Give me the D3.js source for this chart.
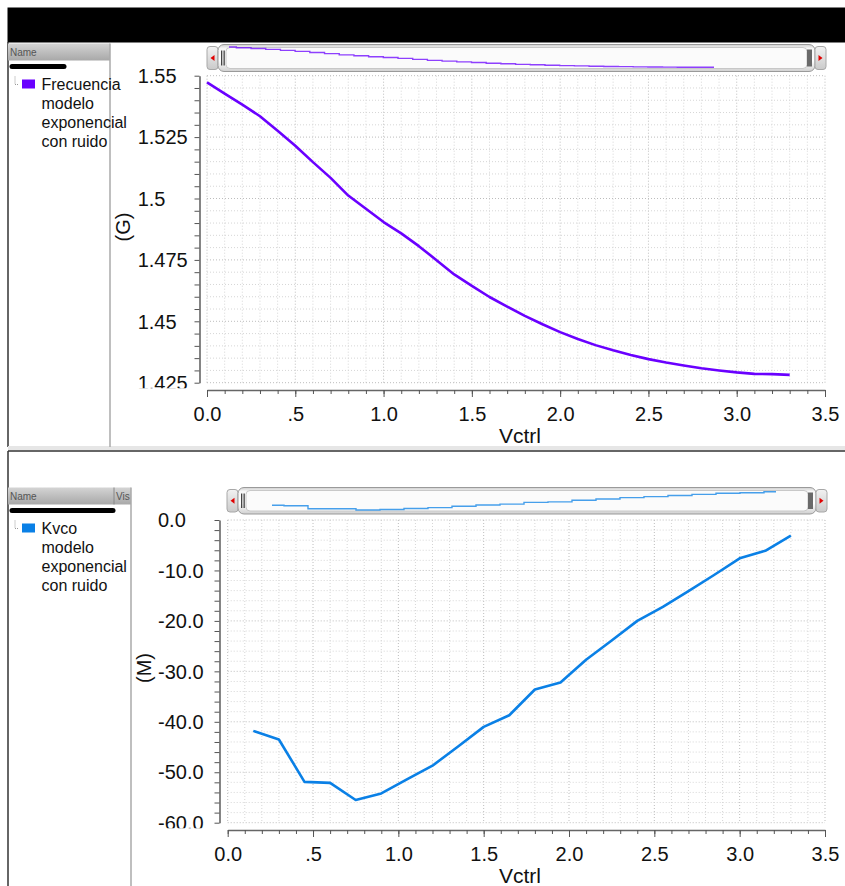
<!DOCTYPE html>
<html><head><meta charset="utf-8">
<script src="https://cdn.jsdelivr.net/npm/d3@7"></script>
<style>
html,body{margin:0;padding:0;background:#fff;}
svg{display:block;font-family:"Liberation Sans",Arial,Helvetica,sans-serif;}
</style></head>
<body><svg id="c" width="845" height="886"></svg>
<script>
// ---------- data ----------
const freqX = [0,0.1,0.2,0.3,0.4,0.5,0.6,0.7,0.8,0.9,1.0,1.1,1.2,1.3,1.4,1.5,1.6,1.7,1.8,1.9,2.0,2.1,2.2,2.3,2.4,2.5,2.6,2.7,2.8,2.9,3.0,3.1,3.2,3.3];
const freqY = [1.5473,1.5427,1.5382,1.5335,1.5276,1.5215,1.5148,1.5084,1.5012,1.4958,1.4904,1.4858,1.4806,1.4749,1.4691,1.4644,1.4599,1.4560,1.4522,1.4488,1.4456,1.4428,1.4403,1.4382,1.4363,1.4346,1.4332,1.4320,1.4309,1.4300,1.4292,1.4286,1.4285,1.4282];
const kvcoX = [0.15,0.3,0.45,0.6,0.75,0.9,1.05,1.2,1.35,1.5,1.65,1.8,1.95,2.1,2.25,2.4,2.55,2.7,2.85,3.0,3.15,3.3];
const kvcoY = [-41.8,-43.5,-51.9,-52.1,-55.5,-54.2,-51.4,-48.7,-44.9,-41.0,-38.7,-33.6,-32.2,-27.7,-23.9,-20.0,-17.2,-14.1,-10.9,-7.6,-6.1,-3.1];
const xTickValues = [0,0.5,1.0,1.5,2.0,2.5,3.0,3.5];
const xTickLabels = ["0.0",".5","1.0","1.5","2.0","2.5","3.0","3.5"];
const freqTickValues = [1.55,1.525,1.5,1.475,1.45,1.425];
const freqTickLabels = ["1.55","1.525","1.5","1.475","1.45","1.425"];
const kvcoTickValues = [0,-10,-20,-30,-40,-50,-60];
const kvcoTickLabels = ["0.0","-10.0","-20.0","-30.0","-40.0","-50.0","-60.0"];
const legendFreq = ["Frecuencia","modelo","exponencial","con ruido"];
const legendKvco = ["Kvco","modelo","exponencial","con ruido"];
const xTitle = "Vctrl";
const freqUnit = "(G)";
const kvcoUnit = "(M)";
const freqColor = "#6a00ff";
const kvcoColor = "#0a80e6";

const svg = d3.select("#c");
const defs = svg.append("defs");
function grad(id, stops){
  const g = defs.append("linearGradient").attr("id",id).attr("x1",0).attr("y1",0).attr("x2",0).attr("y2",1);
  stops.forEach(s=>g.append("stop").attr("offset",s[0]).attr("stop-color",s[1]));
}
grad("hdr",[[0,"#d4d4d4"],[1,"#a8a8a8"]]);
grad("trough",[[0,"#cfcfcf"],[0.15,"#f7f7f7"],[0.6,"#ffffff"],[1,"#d0d0d0"]]);
grad("btn",[[0,"#f2f2f2"],[1,"#cacaca"]]);

// ---------- frame ----------
svg.append("rect").attr("x",7.5).attr("y",7.5).attr("width",838).attr("height",35).attr("fill","#000");
svg.append("line").attr("x1",8).attr("x2",8).attr("y1",42).attr("y2",447).attr("stroke","#333").attr("stroke-width",1.5);
svg.append("rect").attr("x",8).attr("y",446).attr("width",837).attr("height",4).attr("fill","#e6e6e6");
svg.append("line").attr("x1",8).attr("x2",845).attr("y1",451).attr("y2",451).attr("stroke","#333").attr("stroke-width",1.5);
svg.append("line").attr("x1",8).attr("x2",8).attr("y1",451).attr("y2",886).attr("stroke","#333").attr("stroke-width",1.5);

function sidebar(o){
  svg.append("rect").attr("x",8).attr("y",o.hy).attr("width",o.w-8).attr("height",17).attr("fill","url(#hdr)");
  svg.append("text").attr("x",10).attr("y",o.hy+12).attr("font-size",10).attr("fill","#555").text("Name");
  if(o.vis){
    svg.append("line").attr("x1",o.vis).attr("x2",o.vis).attr("y1",o.hy).attr("y2",o.hy+17).attr("stroke","#888");
    svg.append("text").attr("x",o.vis+2).attr("y",o.hy+12).attr("font-size",10).attr("fill","#555").text("Vis");
  }
  svg.append("line").attr("x1",o.w).attr("x2",o.w).attr("y1",o.hy).attr("y2",o.bottom).attr("stroke","#aaa").attr("stroke-width",1.5);
  svg.append("line").attr("x1",12).attr("x2",o.pill).attr("y1",o.hy+23).attr("y2",o.hy+23).attr("stroke","#000").attr("stroke-width",5).attr("stroke-linecap","round");
  svg.append("path").attr("d",`M15,${o.hy+33}V${o.hy+41}H19`).attr("fill","none").attr("stroke","#999").attr("stroke-dasharray","1,1");
  svg.append("rect").attr("x",22).attr("y",o.hy+36).attr("width",13).attr("height",9).attr("fill",o.color);
  const t = svg.append("text").attr("font-size",16).attr("fill","#111");
  o.lines.forEach((s,i)=>t.append("tspan").attr("x",41.5).attr("y",o.hy+46+i*19.3).text(s));
}
sidebar({hy:43.5,w:110,bottom:447,pill:64,color:freqColor,lines:legendFreq});
sidebar({hy:487.5,w:131,bottom:886,pill:113,vis:114,color:kvcoColor,lines:legendKvco});

function scrollbar(o){
  const g = svg.append("g");
  const h = o.y1-o.y0;
  g.append("rect").attr("x",o.x0).attr("y",o.y0+2).attr("width",11).attr("height",h-4).attr("rx",3).attr("fill","url(#btn)").attr("stroke","#a8a8a8");
  g.append("path").attr("d",`M${o.x0+3.5},${o.y0+h/2}l4,-3v6z`).attr("fill","#e00000");
  g.append("rect").attr("x",o.x0+11).attr("y",o.y0).attr("width",o.x1-o.x0-22).attr("height",h).attr("rx",6).attr("fill","url(#trough)").attr("stroke","#9a9a9a");
  g.append("rect").attr("x",o.x0+19).attr("y",o.y0+3).attr("width",o.x1-o.x0-38).attr("height",h-6).attr("rx",4).attr("fill","#fbfbfb").attr("stroke","#c8c8c8");
  g.append("rect").attr("x",o.x0+14).attr("y",o.y0+6).attr("width",1.3).attr("height",h-12).attr("fill","#444");
  g.append("rect").attr("x",o.x0+16.5).attr("y",o.y0+6).attr("width",1.3).attr("height",h-12).attr("fill","#444");
  g.append("rect").attr("x",o.x1-19).attr("y",o.y0+5).attr("width",5).attr("height",h-10).attr("fill","#6a6a6a");
  g.append("rect").attr("x",o.x1-11).attr("y",o.y0+2).attr("width",11).attr("height",h-4).attr("rx",3).attr("fill","url(#btn)").attr("stroke","#a8a8a8");
  g.append("path").attr("d",`M${o.x1-3.5},${o.y0+h/2}l-4,-3v6z`).attr("fill","#e00000");
  const mx = d3.scaleLinear().domain(o.xd).range(o.xr);
  const my = d3.scaleLinear().domain(o.yd).range(o.yr);
  g.append("path").datum(o.xs.map((v,i)=>[v,o.ys[i]]))
    .attr("d",d3.line().x(d=>mx(d[0])).y(d=>my(d[1])).curve(d3.curveStep))
    .attr("fill","none").attr("stroke",o.color).attr("stroke-width",1.4).attr("opacity",0.75);
}
scrollbar({x0:207,x1:826,y0:44.5,y1:71.5,xs:freqX,ys:freqY,xd:[0,3.3],xr:[229,714],yd:[1.5473,1.4282],yr:[47,67.3],color:freqColor});
scrollbar({x0:227,x1:827,y0:487.5,y1:514,xs:kvcoX,ys:kvcoY,xd:[0.15,3.3],xr:[272,776],yd:[-55.5,-3.1],yr:[510,491.7],color:kvcoColor});

function chart(o){
  const x = d3.scaleLinear().domain([0,3.5]).range([o.left,825]);
  const y = d3.scaleLinear().domain(o.yd).range([o.bottom,o.top]);
  const g = svg.append("g");
  const xg = d3.range(0,36).map(i=>i/10);
  const yg = d3.range(0,Math.round((o.yd[1]-o.yd[0])/o.ystep)+1).map(i=>o.yd[0]+i*o.ystep);
  g.selectAll(".vg").data(xg).join("line")
    .attr("x1",d=>x(d)).attr("x2",d=>x(d)).attr("y1",o.top).attr("y2",o.bottom)
    .attr("stroke",(d,i)=>i%5===0?"#bdbdbd":"#d6d6d6").attr("stroke-width",1).attr("stroke-dasharray","1,2");
  g.selectAll(".hg").data(yg).join("line")
    .attr("x1",o.left).attr("x2",825).attr("y1",d=>y(d)).attr("y2",d=>y(d))
    .attr("stroke",(d,i)=>i%5===0?"#bdbdbd":"#d6d6d6").attr("stroke-width",1).attr("stroke-dasharray","1,2");
  const ya = g.append("g").attr("transform",`translate(${o.yaxisX},0)`)
    .call(d3.axisLeft(y).tickValues(yg).tickSize(5).tickSizeOuter(0).tickFormat(""));
  ya.select(".domain").attr("stroke","#666").attr("stroke-width",1.6);
  ya.selectAll(".tick line").attr("stroke","#555");
  const clipId = "clip"+o.id;
  defs.append("clipPath").attr("id",clipId).append("rect").attr("x",0).attr("y",0).attr("width",845).attr("height",o.bottom+5.5);
  g.append("g").attr("clip-path",`url(#${clipId})`).selectAll("text").data(o.yticks).join("text")
    .attr("x",o.labelX).attr("y",d=>y(d)).attr("dy","0.36em").attr("font-size",20).attr("fill","#111")
    .text((d,i)=>o.ylabels[i]);
  const xa = g.append("g").attr("transform",`translate(0,${o.xaxisY})`)
    .call(d3.axisBottom(x).tickValues(xg).tickSize(4).tickSizeOuter(0).tickFormat(""));
  xa.select(".domain").attr("stroke","#666").attr("stroke-width",1.6);
  xa.selectAll(".tick line").attr("stroke","#555");
  const xb = g.append("g").attr("transform",`translate(0,${o.xaxisY})`)
    .call(d3.axisBottom(x).tickValues(xTickValues).tickSize(7).tickPadding(9.7).tickFormat((d,i)=>xTickLabels[i]));
  xb.select(".domain").remove();
  xb.selectAll(".tick line").attr("stroke","#555");
  xb.selectAll("text").attr("font-size",20).attr("fill","#111").attr("font-family","Liberation Sans, Arial, sans-serif");
  g.append("text").attr("x",520).attr("y",o.xaxisY+53).attr("text-anchor","middle").attr("font-size",21).attr("fill","#111").text(xTitle);
  g.append("text").attr("transform",`translate(${o.unitX},${o.unitY}) rotate(-90)`).attr("text-anchor","middle").attr("dy","0.35em").attr("font-size",20).attr("fill","#111").text(o.unit);
  g.append("path").datum(o.xs.map((v,i)=>[v,o.ys[i]]))
    .attr("d",d3.line().x(d=>x(d[0])).y(d=>y(d[1])))
    .attr("fill","none").attr("stroke",o.color).attr("stroke-width",2.6).attr("stroke-linejoin","round");
}
chart({id:"f",left:207,top:75.7,bottom:382.7,yd:[1.425,1.55],ystep:0.005,yaxisX:199.5,xaxisY:390,labelX:137.7,
  yticks:freqTickValues,ylabels:freqTickLabels,unit:freqUnit,unitX:123,unitY:227,xs:freqX,ys:freqY,color:freqColor});
chart({id:"k",left:227.7,top:520,bottom:822.7,yd:[-60,0],ystep:2,yaxisX:219.5,xaxisY:830,labelX:158,
  yticks:kvcoTickValues,ylabels:kvcoTickLabels,unit:kvcoUnit,unitX:144,unitY:668,xs:kvcoX,ys:kvcoY,color:kvcoColor});
</script></body></html>
